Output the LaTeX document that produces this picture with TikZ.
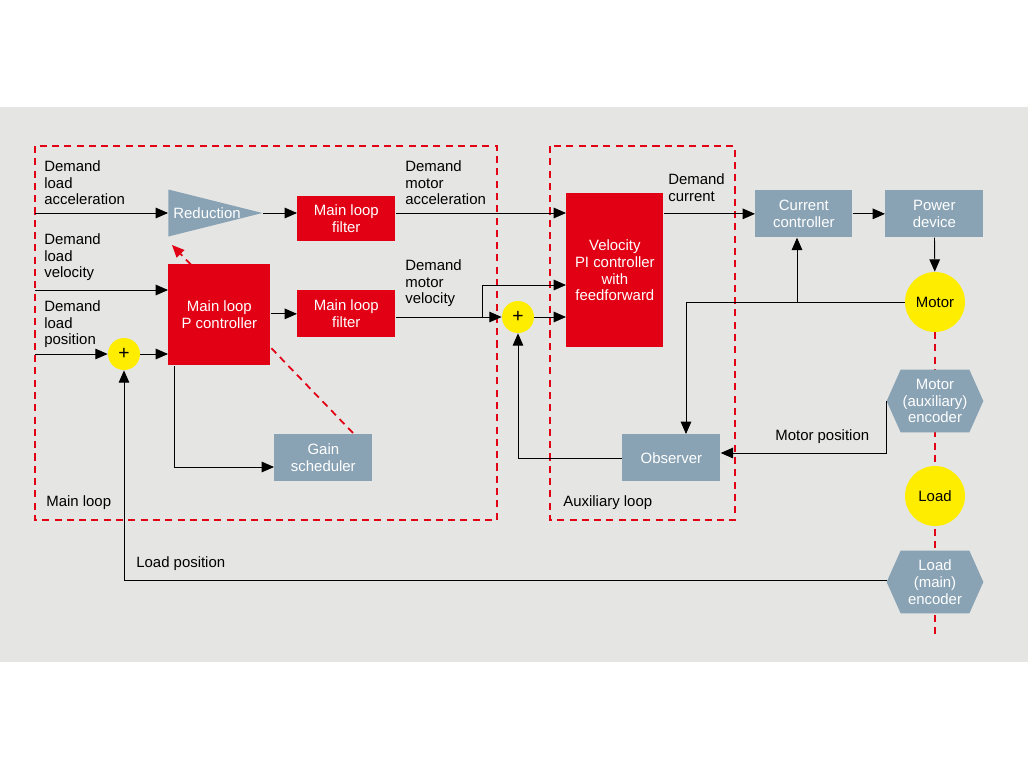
\documentclass[tikz,border=0pt]{standalone}
\usepackage{fontspec}
\setmainfont{Liberation Sans}
\usetikzlibrary{arrows.meta,shapes.geometric,positioning}
\definecolor{bgrey}{RGB}{229,229,227}
\definecolor{sred}{RGB}{225,0,20}
\definecolor{sblue}{RGB}{137,163,181}
\definecolor{syellow}{RGB}{255,237,0}
\tikzset{
	txt/.style={font=\fontsize{8.5}{9.6}\selectfont,inner sep=0pt,align=left},
	redbox/.style={fill=sred,text=white,font=\fontsize{8.5}{9.6}\selectfont,align=center,inner sep=0pt,anchor=north west},
	bluebox/.style={fill=sblue,text=white,font=\fontsize{8.5}{9.6}\selectfont,align=center,inner sep=0pt,anchor=north west},
	sumnode/.style={circle,fill=syellow,minimum size=32*0.02cm,inner sep=0pt,font=\fontsize{11}{11}\selectfont},
	bignode/.style={circle,fill=syellow,minimum size=60*0.02cm,inner sep=0pt,font=\fontsize{8.5}{9.6}\selectfont},
	enc/.style={text=white,minimum width=96*0.02cm,minimum height=62*0.02cm,inner sep=0pt,font=\fontsize{8.5}{9.6}\selectfont,align=center},
	conn/.style={-{Triangle[length=7pt,width=6pt]},line width=0.5pt},
	line/.style={line width=0.5pt},
	loopbox/.style={draw=sred,line width=1pt,dash pattern=on 4pt off 3pt},
}
\newcommand{\hexfill}[1]{
	\fill[sblue] (#1.west) -- ([xshift=14*0.02cm]#1.north west) -- ([xshift=-14*0.02cm]#1.north east) -- (#1.east) -- ([xshift=-14*0.02cm]#1.south east) -- ([xshift=14*0.02cm]#1.south west) -- cycle;
}
\begin{document}
\begin{tikzpicture}[x=0.02cm,y=-0.02cm]
	\useasboundingbox (0,0) rectangle (1028,771);
	%Background
	\fill[bgrey] (0,107) rectangle (1028,662);
	%Loops
	\draw[loopbox] (35,146) rectangle (497,520);
	\draw[loopbox] (550,146) rectangle (735,520);
	\draw[loopbox] (935,332) -- (935,636);
	\node[txt,anchor=west] (mainlbl) at (46,503) {Main loop};
	\node[txt,anchor=west] (auxlbl) at (563,503) {Auxiliary loop};
	%Gain scheduler dashed arrow (behind)
	\coordinate (gsTip) at (353,433);
	\coordinate (redTip) at (172,245);
	\draw[sred,line width=1pt,dash pattern=on 4pt off 3pt,-{Triangle[length=7pt,width=6pt]}] (gsTip) -- (redTip);
	%Blocks
	\node[isosceles triangle,isosceles triangle stretches,fill=sblue,minimum height=94*0.02cm,minimum width=47*0.02cm,inner sep=0pt,anchor=west] (red) at (168,213) {};
	\node[text=white,font=\fontsize{8.5}{9.6}\selectfont] at (207,213) {Reduction};
	\node[redbox,minimum width=98*0.02cm,minimum height=45*0.02cm] (filt1) at (297,196) {Main loop\\filter};
	\node[redbox,minimum width=102*0.02cm,minimum height=101*0.02cm] (pctrl) at (168,264) {Main loop\\P controller};
	\node[redbox,minimum width=98*0.02cm,minimum height=47*0.02cm] (filt2) at (297,290) {Main loop\\filter};
	\node[bluebox,minimum width=98*0.02cm,minimum height=47*0.02cm] (gain) at (274,434) {Gain\\scheduler};
	\node[redbox,minimum width=97*0.02cm,minimum height=154*0.02cm] (vel) at (566,193) {Velocity\\PI controller\\with\\feedforward};
	\node[bluebox,minimum width=97*0.02cm,minimum height=47*0.02cm] (cur) at (755,190) {Current\\controller};
	\node[bluebox,minimum width=98*0.02cm,minimum height=47*0.02cm] (pow) at (885,190) {Power\\device};
	\node[bluebox,minimum width=98*0.02cm,minimum height=47*0.02cm] (obs) at (622,434) {Observer};
	\node[sumnode] (sum1) at (124,354) {+};
	\node[sumnode] (sum2) at (518,317) {+};
	\node[bignode] (motor) at (935,302) {Motor};
	\node[bignode] (load) at (935,496) {Load};
	\path (935,401) node[enc] (menc) {};
	\hexfill{menc}
	\node[enc] at (menc) {Motor\\(auxiliary)\\encoder};
	\path (935,582) node[enc] (lenc) {};
	\hexfill{lenc}
	\node[enc] at (lenc) {Load\\(main)\\encoder};
	%Inputs
	\node[txt,anchor=north west] (dla) at (44,160) {Demand\\load\\acceleration};
	\node[txt,anchor=north west] (dlv) at (44,233) {Demand\\load\\velocity};
	\node[txt,anchor=north west] (dlp) at (44,300) {Demand\\load\\position};
	\coordinate (inA) at (35,213);
	\coordinate (inV) at (35,290);
	\coordinate (inP) at (35,354);
	\draw[conn] (inA) -- (red.west);
	\draw[conn] (inV) -- (pctrl.west |- inV);
	\draw[conn] (inP) -- (sum1);
	\draw[conn] (sum1) -- (pctrl.west |- sum1);
	\draw[conn] (red.east) -- (filt1.west |- red.east);
	\draw[conn] (pctrl.east |- filt2) -- (filt2);
	%Motor demands
	\node[txt,anchor=north west] (dma) at (405,160) {Demand\\motor\\acceleration};
	\node[txt,anchor=north west] (dmv) at (405,259) {Demand\\motor\\velocity};
	\draw[conn] (filt1.east |- red.east) -- (vel.west |- red.east);
	\draw[conn] (filt2.east |- sum2) -- (sum2);
	\coordinate (brV) at (482,317);
	\draw[conn] (brV) -- (482,285) -- (vel.west |- 0,285);
	\draw[conn] (sum2) -- (vel.west |- sum2);
	\draw[conn] (pctrl.south west) ++(6,0) coordinate (pDown) |- (gain.west |- 0,467);
	%Current path
	\node[txt,anchor=north west] (dcur) at (668,173) {Demand\\current};
	\draw[conn] (vel.east |- cur) -- (cur);
	\draw[conn] (cur) -- (pow);
	\draw[conn] (pow) -- (motor);
	\coordinate (mL) at (686,302);
	\draw[line] (motor) -- (mL);
	\draw[conn] (mL) -- (obs.north -| mL);
	\draw[conn] (797,302) -- (cur.south -| 797,0);
	%Feedback
	\node[txt,anchor=west] (mpos) at (775,437) {Motor position};
	\draw[conn] (menc.west) |- (obs.east |- 0,453);
	\draw[conn] (obs.west |- 0,458) -| (sum2);
	\node[txt,anchor=west] (lpos) at (136,564) {Load position};
	\draw[conn] (lenc.west |- 0,580) -| (sum1);
\end{tikzpicture}
\end{document}
